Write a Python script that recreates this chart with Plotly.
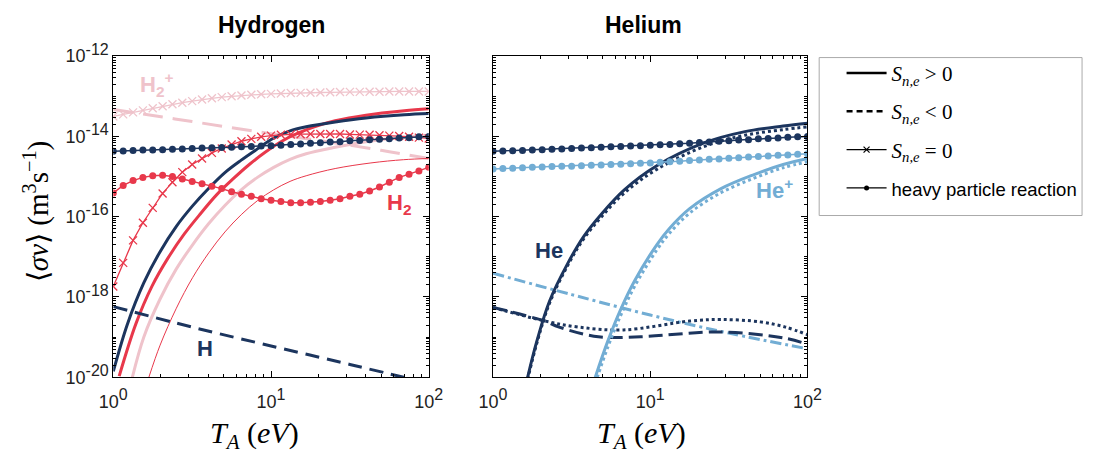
import numpy as np
import plotly.graph_objects as go

# ---------------- data (log10 of <sigma v> in m^3/s) ----------------
T_grid = [1.000, 1.155, 1.334, 1.540, 1.778, 2.054, 2.371, 2.738, 3.162, 3.652, 4.217,
          4.870, 5.623, 6.494, 7.499, 8.660, 10.00, 11.55, 13.34, 15.40, 17.78, 20.54,
          23.71, 27.38, 31.62, 36.52, 42.17, 48.70, 56.23, 64.94, 74.99, 86.60, 100.0]

# Hydrogen panel
h2p_zero = [-13.50, -13.45, -13.40, -13.35, -13.30, -13.25, -13.20, -13.16, -13.12, -13.08, -13.05,
            -13.02, -13.00, -12.98, -12.96, -12.95, -12.94, -12.93, -12.92, -12.915, -12.91, -12.905,
            -12.90, -12.895, -12.89, -12.89, -12.885, -12.885, -12.88, -12.88, -12.88, -12.88, -12.88]
h2_zero = [-17.74, -17.15, -16.59, -16.15, -15.78, -15.42, -15.14, -14.89, -14.70, -14.55, -14.41,
           -14.30, -14.20, -14.12, -14.06, -14.01, -13.98, -13.96, -13.95, -13.945, -13.94, -13.94,
           -13.94, -13.94, -13.95, -13.955, -13.96, -13.97, -13.98, -13.99, -14.01, -14.03, -14.05]
h2_heavy = [-15.41, -15.22, -15.10, -15.02, -14.98, -14.97, -15.00, -15.06, -15.12, -15.18, -15.24,
            -15.30, -15.38, -15.44, -15.49, -15.55, -15.59, -15.62, -15.65, -15.65, -15.64, -15.62,
            -15.59, -15.55, -15.49, -15.44, -15.36, -15.26, -15.14, -15.02, -14.94, -14.86, -14.77]
h_heavy = [-14.37, -14.36, -14.35, -14.34, -14.335, -14.33, -14.32, -14.31, -14.30, -14.29, -14.28,
           -14.275, -14.27, -14.26, -14.25, -14.24, -14.23, -14.22, -14.20, -14.19, -14.17, -14.16,
           -14.14, -14.13, -14.11, -14.10, -14.08, -14.07, -14.06, -14.04, -14.03, -14.01, -14.00]

h2p_neg_T = [1, 1.78, 3.16, 5.62, 10, 17.8, 31.6, 56.2, 100]
h2p_neg = [-13.33, -13.48, -13.63, -13.78, -13.93, -14.07, -14.22, -14.38, -14.55]

h2p_pos_T = [1.32, 1.56, 1.98, 2.51, 3.18, 4.03, 5.1, 6.47, 8.2, 10.4, 13.2, 16.7, 25.5, 40, 70, 100]
h2p_pos = [-20.0, -19.0, -18.05, -17.3, -16.7, -16.17, -15.72, -15.33, -15.02, -14.77, -14.57, -14.43,
           -14.27, -14.13, -14.02, -13.97]

h2_pos_T = [1.09, 1.39, 1.76, 2.23, 2.82, 3.58, 4.53, 5.74, 7.28, 9.22, 11.7, 14.8, 18.8, 25.5, 40,
            70, 100]
h2_pos = [-19.97, -18.67, -17.73, -17.02, -16.43, -15.92, -15.45, -15.06, -14.70, -14.39, -14.12,
          -13.92, -13.76, -13.61, -13.47, -13.36, -13.31]

h2_pos_thin_T = [1.68, 1.98, 2.51, 3.18, 4.03, 5.1, 6.47, 8.2, 10.4, 13.2, 16.7, 25.5, 43, 69, 100]
h2_pos_thin = [-20.0, -19.2, -18.28, -17.52, -16.9, -16.38, -15.95, -15.6, -15.33, -15.12, -14.98,
               -14.8, -14.66, -14.58, -14.55]

h_pos_T = [1, 1.23, 1.56, 1.98, 2.51, 3.18, 4.03, 5.1, 6.47, 8.2, 10.4, 13.2, 16.7, 25.5, 40, 70, 100]
h_pos = [-19.85, -18.67, -17.65, -16.87, -16.24, -15.73, -15.29, -14.90, -14.59, -14.31, -14.04,
         -13.86, -13.76, -13.64, -13.54, -13.46, -13.43]

h_neg_T = [1, 3.16, 10, 31.6, 100]
h_neg = [-18.24, -18.75, -19.22, -19.68, -20.15]

# Helium panel
he_heavy = [-14.37, -14.36, -14.355, -14.35, -14.34, -14.33, -14.32, -14.31, -14.30, -14.29, -14.28,
            -14.27, -14.26, -14.25, -14.24, -14.23, -14.22, -14.21, -14.20, -14.18, -14.17, -14.15,
            -14.14, -14.12, -14.11, -14.09, -14.08, -14.06, -14.05, -14.04, -14.02, -14.01, -14.00]
hep_heavy = [-14.81, -14.80, -14.79, -14.78, -14.77, -14.76, -14.75, -14.745, -14.74, -14.73, -14.72,
             -14.71, -14.70, -14.69, -14.68, -14.67, -14.66, -14.645, -14.63, -14.62, -14.60, -14.59,
             -14.57, -14.56, -14.545, -14.53, -14.515, -14.50, -14.49, -14.47, -14.46, -14.445, -14.43]

he_pos_T = [1.66, 1.9, 2.29, 3, 3.76, 4.9, 6.84, 11, 22.4, 40, 70, 100]
he_pos = [-20.0, -19.1, -18.1, -17.15, -16.5, -15.93, -15.33, -14.73, -14.15, -13.88, -13.74, -13.67]
he_posdot_T = [1.66, 1.9, 2.29, 3, 3.76, 4.9, 6.84, 11, 22.4, 40, 70, 100]
he_posdot = [-20.05, -19.15, -18.15, -17.2, -16.56, -16.0, -15.41, -14.82, -14.24, -13.97, -13.83, -13.76]

hep_pos_T = [4.47, 5.37, 6.5, 7.94, 11, 13.2, 17.8, 28.2, 45.7, 70, 100]
hep_pos = [-20.0, -19.1, -18.3, -17.6, -16.7, -16.3, -15.8, -15.3, -14.95, -14.7, -14.55]
hep_posdot_T = [4.47, 5.37, 6.5, 7.94, 11, 13.2, 17.8, 28.2, 45.7, 70, 100]
hep_posdot = [-20.15, -19.25, -18.45, -17.74, -16.83, -16.42, -15.91, -15.4, -15.04, -14.78, -14.63]

hep_dashdot_T = [1, 3.16, 10, 31.6, 100]
hep_dashdot = [-17.41, -17.94, -18.45, -18.9, -19.29]

he_neg_T = [1, 2.09, 2.63, 4.68, 8.7, 28.2, 72.4, 100]
he_neg = [-18.26, -18.59, -18.75, -18.99, -18.99, -18.87, -19.03, -19.18]
he_negdot_T = [1, 2.09, 3.5, 6.76, 17.8, 28.2, 50, 72.4, 100]
he_negdot = [-18.26, -18.59, -18.75, -18.82, -18.6, -18.56, -18.62, -18.75, -18.94]

# ---------------- styles ----------------
NAVY = "#1c355e"
RED = "#e8384b"
PINK = "#efc3cb"
LBLUE = "#72add4"


def v(a):
    return 10 ** np.array(a, dtype=float)


fig = go.Figure()


def line(x, y, color, width, dash="solid", xa="x", ya="y"):
    fig.add_trace(go.Scatter(x=x, y=v(y), mode="lines",
                             line=dict(color=color, width=width, dash=dash, shape="spline", smoothing=1),
                             xaxis=xa, yaxis=ya, showlegend=False, hoverinfo="skip"))


def xmark(x, y, color, xa="x", ya="y"):
    fig.add_trace(go.Scatter(x=x, y=v(y), mode="lines+markers",
                             line=dict(color=color, width=1.3),
                             marker=dict(symbol="x-thin", size=8, line=dict(color=color, width=1.3)),
                             xaxis=xa, yaxis=ya, showlegend=False, hoverinfo="skip"))


def dots(x, y, color, xa="x", ya="y"):
    fig.add_trace(go.Scatter(x=x, y=v(y), mode="lines+markers",
                             line=dict(color=color, width=1.5),
                             marker=dict(symbol="circle", size=7, color=color),
                             xaxis=xa, yaxis=ya, showlegend=False, hoverinfo="skip"))


# Hydrogen
line(h2p_pos_T, h2p_pos, PINK, 3)
line(h2p_neg_T, h2p_neg, PINK, 3, dash="20px,10px")
xmark(T_grid, h2p_zero, PINK)
line(h2_pos_thin_T, h2_pos_thin, RED, 1)
line(h2_pos_T, h2_pos, RED, 3)
line(h_neg_T, h_neg, NAVY, 3, dash="14px,8px")
line(h_pos_T, h_pos, NAVY, 3)
xmark(T_grid, h2_zero, RED)
dots(T_grid, h2_heavy, RED)
dots(T_grid, h_heavy, NAVY)

# Helium
line(hep_dashdot_T, hep_dashdot, LBLUE, 3, dash="11px,4px,3px,4px", xa="x2", ya="y2")
line(he_neg_T, he_neg, NAVY, 3, dash="14px,6px", xa="x2", ya="y2")
line(he_negdot_T, he_negdot, NAVY, 3, dash="3px,3px", xa="x2", ya="y2")
line(hep_posdot_T, hep_posdot, LBLUE, 3, dash="3px,3px", xa="x2", ya="y2")
line(hep_pos_T, hep_pos, LBLUE, 3, xa="x2", ya="y2")
line(he_posdot_T, he_posdot, NAVY, 3, dash="3px,3px", xa="x2", ya="y2")
line(he_pos_T, he_pos, NAVY, 3, xa="x2", ya="y2")
dots(T_grid, hep_heavy, LBLUE, xa="x2", ya="y2")
dots(T_grid, he_heavy, NAVY, xa="x2", ya="y2")

# Legend entries
leg_names = ["<i>S</i><sub><i>n,e</i></sub> > 0",
             "<i>S</i><sub><i>n,e</i></sub> < 0",
             "<i>S</i><sub><i>n,e</i></sub> = 0",
             "<span style=\"font-family:'Liberation Sans', Arial; font-size:18.5px\">heavy particle reaction</span>"]
leg_specs = [dict(mode="lines", line=dict(color="black", width=2.5)),
             dict(mode="lines", line=dict(color="black", width=2.5, dash="6px,4px")),
             dict(mode="lines+markers", line=dict(color="black", width=1.2),
                  marker=dict(symbol="x-thin", size=6, line=dict(color="black", width=1.2))),
             dict(mode="lines+markers", line=dict(color="black", width=1.2),
                  marker=dict(symbol="circle", size=5, color="black"))]
for i, (nm, sp) in enumerate(zip(leg_names, leg_specs)):
    fig.add_trace(go.Scatter(x=[None], y=[None], name=nm, legendgroup=f"g{i}", showlegend=True,
                             xaxis="x2", yaxis="y2", **sp))

W, H = 1099, 462


def px(x):
    return x / W


def py(y):
    return 1 - y / H


ymin_tick = [k * 10.0 ** n for n in range(-20, -12) for k in range(1, 10) if not (k == 1 and n % 2 == 0)]
xmin_tick = [k * 10.0 ** n for n in range(0, 2) for k in range(2, 10)]
tickfont = dict(family="Liberation Sans, Arial", size=18, color="#222")


def sup(s):
    return f"10<sup><span style='font-size:16px'>{s}</span></sup>"


def xax(domain, anchor):
    return dict(type="log", range=[0, 2], domain=domain, anchor=anchor, showline=True, linecolor="black",
                linewidth=1, mirror="ticks", ticks="inside", ticklen=6, tickcolor="black",
                tickvals=[1, 10, 100], ticktext=[sup("0"), sup("1"), sup("2")],
                tickfont=tickfont, showgrid=False, zeroline=False, ticklabelstandoff=8,
                minor=dict(ticks="inside", ticklen=3, tickcolor="black", tickvals=xmin_tick, showgrid=False))


def yax(anchor, labels):
    d = dict(type="log", range=[-20, -12], domain=[py(383), py(43.5)], anchor=anchor, showline=True,
             linecolor="black", linewidth=1, mirror="ticks", ticks="inside", ticklen=6, tickcolor="black",
             tickvals=[1e-20, 1e-18, 1e-16, 1e-14, 1e-12],
             ticktext=[sup("-20"), sup("-18"), sup("-16"), sup("-14"), sup("-12")],
             showticklabels=labels, tickfont=tickfont, showgrid=False, zeroline=False,
             minor=dict(ticks="inside", ticklen=3, tickcolor="black", tickvals=ymin_tick, showgrid=False))
    return d


serif = "Liberation Serif, Times New Roman, serif"
bold = "Liberation Sans, Arial"
ann = [
    dict(x=px(264), y=py(11), text="<b>Hydrogen</b>", font=dict(family=bold, size=23, color="black")),
    dict(x=px(647), y=py(11), text="<b>Helium</b>", font=dict(family=bold, size=23, color="black")),
    dict(x=px(247), y=py(444), text="<i>T</i><sub><i>A</i></sub> (<i>eV</i>)",
         font=dict(family=serif, size=30, color="black")),
    dict(x=px(644), y=py(444), text="<i>T</i><sub><i>A</i></sub> (<i>eV</i>)",
         font=dict(family=serif, size=30, color="black")),
    dict(x=px(23), y=py(208), text="⟨<i>σv</i>⟩ (m<sup>3</sup>s<sup>−1</sup>)", textangle=-90,
         font=dict(family=serif, size=29, color="black")),
    dict(x=px(146), y=py(73), text="<b>H<sub>2</sub><sup>+</sup></b>", font=dict(family=bold, size=22, color=PINK)),
    dict(x=px(395), y=py(200), text="<b>H<sub>2</sub></b>", font=dict(family=bold, size=22, color=RED)),
    dict(x=px(196), y=py(353), text="<b>H</b>", font=dict(family=bold, size=22, color=NAVY)),
    dict(x=px(549), y=py(249), text="<b>He</b>", font=dict(family=bold, size=22, color=NAVY)),
    dict(x=px(781), y=py(184), text="<b>He<sup>+</sup></b>", font=dict(family=bold, size=22, color=LBLUE)),
]
for a in ann:
    a.update(xref="paper", yref="paper", showarrow=False, xanchor="center", yanchor="middle")

fig.update_layout(
    width=W, height=H, margin=dict(l=0, r=0, t=0, b=0),
    paper_bgcolor="white", plot_bgcolor="white",
    xaxis=xax([px(102), px(426)], "y"),
    yaxis=yax("x", True),
    xaxis2=xax([px(492), px(815)], "y2"),
    yaxis2=yax("x2", False),
    annotations=ann,
    shapes=[dict(type="rect", xref="paper", yref="paper", x0=px(827), x1=px(1097), y0=py(212), y1=py(45),
                 line=dict(color="#aaaaaa", width=1), fillcolor="rgba(0,0,0,0)")],
    legend=dict(x=px(850), y=py(40), xanchor="left", yanchor="top", bgcolor="rgba(0,0,0,0)",
                borderwidth=0, font=dict(family=serif, size=21, color="black"),
                tracegroupgap=8, itemwidth=40),
    showlegend=True,
)

fig.write_html("out.html")
